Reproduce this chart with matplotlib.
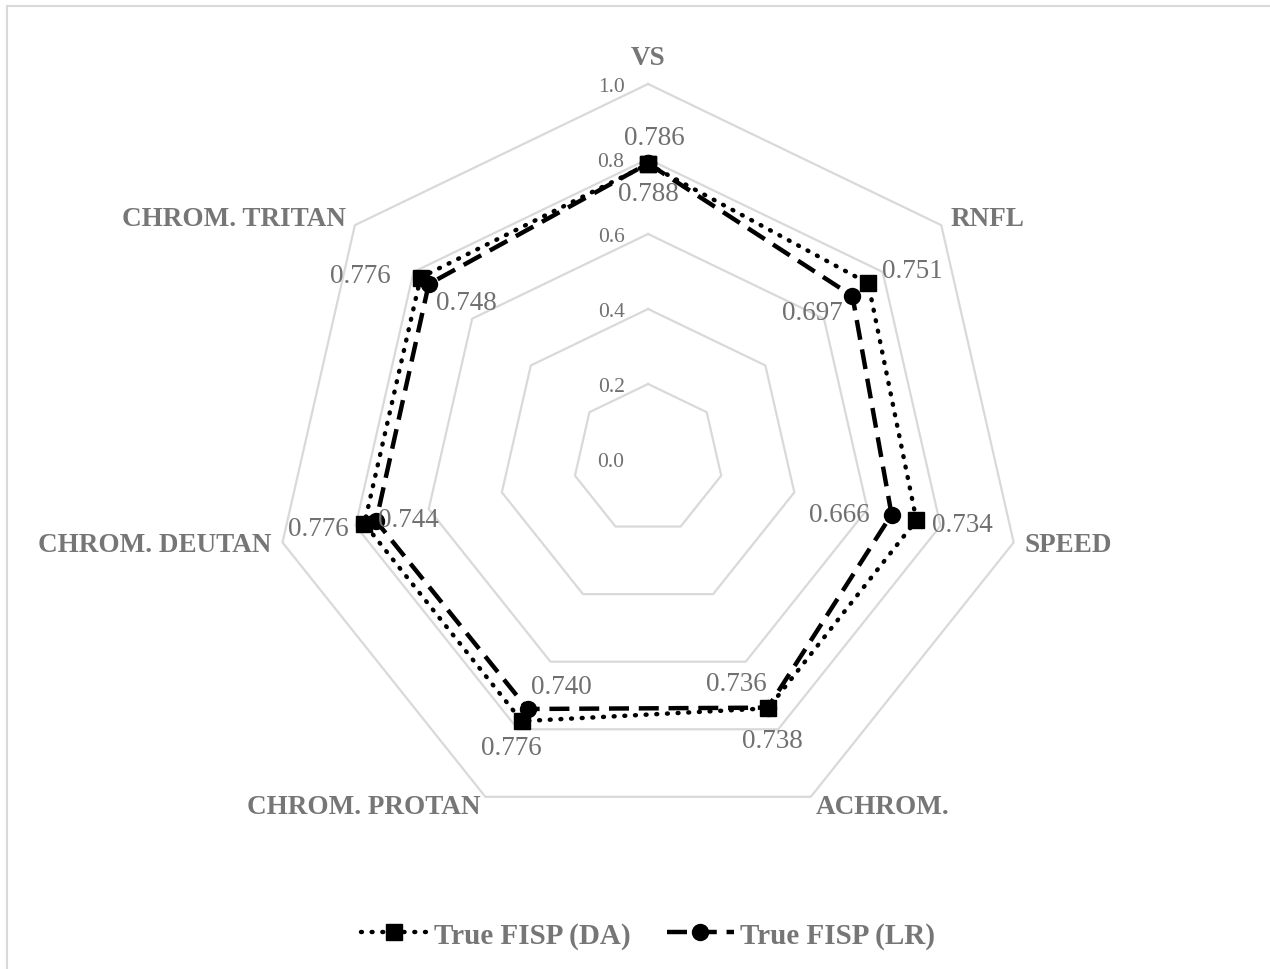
import numpy as np
import matplotlib.pyplot as plt
from matplotlib.lines import Line2D

categories = ['VS', 'RNFL', 'SPEED', 'ACHROM.', 'CHROM. PROTAN', 'CHROM. DEUTAN', 'CHROM. TRITAN']
da_values = [0.786, 0.751, 0.734, 0.738, 0.776, 0.776, 0.776]
lr_values = [0.788, 0.697, 0.666, 0.736, 0.740, 0.744, 0.748]
levels = [0.2, 0.4, 0.6, 0.8, 1.0]
level_labels = ['0.0', '0.2', '0.4', '0.6', '0.8', '1.0']

plt.rcParams['font.family'] = ['Liberation Serif', 'DejaVu Serif']
text_grey = '#707070'
label_grey = '#767676'

n = len(categories)
angles = np.arange(n) * 2 * np.pi / n
closed = np.append(angles, angles[0])

fig = plt.figure(figsize=(12.7, 9.7), dpi=100)
ax = fig.add_axes([0.2150, 0.1392, 0.5906, 0.7732], projection='polar')
ax.set_theta_offset(np.pi / 2)
ax.set_theta_direction(-1)
ax.set_ylim(0, 1)
ax.grid(False)
ax.spines['polar'].set_visible(False)
ax.set_xticks([])
ax.set_yticks([])

# heptagon grid
for lv in levels:
    ax.plot(closed, [lv] * (n + 1), color='#d9d9d9', lw=1.6, zorder=1, clip_on=False)

# radial tick labels next to the top axis
for lv, lab in zip([0.0] + levels, level_labels):
    ax.annotate(lab, (0, lv), xytext=(-37, -3), textcoords='offset pixels',
                ha='center', va='center', fontsize=15.5, color=text_grey)

# category labels
for ang, cat in zip(angles, categories):
    s, c = np.sin(ang), np.cos(ang)
    ha = 'left' if s > 0.1 else ('right' if s < -0.1 else 'center')
    if c > 0.9:
        ax.text(ang, 1.037, cat, ha=ha, va='bottom', fontsize=19.5, fontweight='bold',
                color=label_grey, clip_on=False)
    else:
        ax.text(ang, 1.03, cat, ha=ha, va='center', fontsize=19.5, fontweight='bold',
                color=label_grey, clip_on=False)

da_closed = da_values + da_values[:1]
lr_closed = lr_values + lr_values[:1]

da_style = dict(color='black', lw=3.2, linestyle=(0, (0.2, 2.2)), dash_capstyle='round',
                marker='s', markersize=11.5)
lr_style = dict(color='black', lw=3.2, linestyle=(0, (4.5, 2.2)), marker='o', markersize=11.5)

ax.plot(closed, da_closed, zorder=3, clip_on=False, **da_style)
ax.plot(closed, lr_closed, zorder=4, clip_on=False, **lr_style)

# data labels (offsets in pixels, y up)
da_offsets = [(6, 27), (44, 13), (46, -4), (4, -32), (-10, -26), (-46, -5), (-60, 2)]
lr_offsets = [(0, -30), (-40, -16), (-52, 0), (-31, 24), (34, 22), (32, 2), (38, -18)]
for ang, v, off in zip(angles, da_values, da_offsets):
    ax.annotate(f'{v:.3f}', (ang, v), xytext=off, textcoords='offset pixels',
                ha='center', va='center', fontsize=19.5, color=text_grey, zorder=5)
for ang, v, off in zip(angles, lr_values, lr_offsets):
    ax.annotate(f'{v:.3f}', (ang, v), xytext=off, textcoords='offset pixels',
                ha='center', va='center', fontsize=19.5, color=text_grey, zorder=5)

handles = [Line2D([], [], **da_style), Line2D([], [], **lr_style)]
leg = fig.legend(handles, ['True FISP (DA)', 'True FISP (LR)'], loc='center',
                 bbox_to_anchor=(0.51, 0.035), ncol=2, frameon=False, handlelength=2.3,
                 columnspacing=1.25, handletextpad=0.2,
                 prop={'size': 21, 'weight': 'bold'})
for t in leg.get_texts():
    t.set_color(label_grey)

# chart area border (top and left visible)
fig.add_artist(Line2D([7 / 1270, 1], [1 - 7 / 970, 1 - 7 / 970], color='#d9d9d9', lw=1.5))
fig.add_artist(Line2D([7 / 1270, 7 / 1270], [0, 1 - 7 / 970], color='#d9d9d9', lw=1.5))

fig.savefig('out.png', dpi=100)
